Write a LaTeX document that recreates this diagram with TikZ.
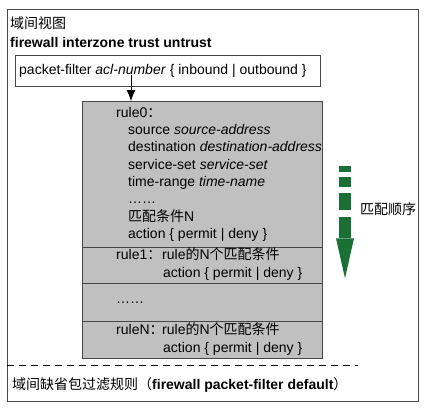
\documentclass[tikz,border=0pt]{standalone}
\usepackage{fontspec}
\usetikzlibrary{arrows.meta}
\setmainfont{Liberation Sans}
\newfontfamily\cjk{Noto Sans CJK SC}
\definecolor{rulegray}{RGB}{192,192,192}
\definecolor{linegray}{RGB}{70,70,70}
\definecolor{ordergreen}{RGB}{24,112,52}
\begin{document}
\begin{tikzpicture}[x=1pt, y=-1pt,
  txt/.style={anchor=base west, inner sep=0pt, font=\fontsize{14}{17}\selectfont},
  rulebox/.style={draw=linegray, fill=rulegray, anchor=north west, inner sep=0pt, minimum width=240},
  seg/.style={fill=ordergreen, draw=none}]
\useasboundingbox (0,0) rectangle (426,408);

% Outer frame and the default rule line
\draw[linegray] (7,9) rectangle (418,401);
\draw[dashed, dash pattern=on 7pt off 5pt] (7,365) -- (358,365);

% Zone header
\node[txt] (zone) at (10,28) {\cjk 域间视图};
\node[txt, font=\fontsize{14}{17}\selectfont\bfseries] (cmd) at (10,47) {firewall interzone trust untrust};

% packet-filter box
\node[draw=linegray, anchor=north west, minimum width=305, minimum height=31, inner sep=0pt] (pf) at (15,55) {};
\node[txt] (pftext) at (19,74.5) {packet-filter \textit{acl-number} \{ inbound | outbound \}};

% Rule boxes
\node[rulebox, minimum height=146] (rule0) at (82,101) {};
\node[rulebox, minimum height=36] (rule1) at (82,247) {};
\node[rulebox, minimum height=38] (rulemid) at (82,283) {};
\node[rulebox, minimum height=37] (ruleN) at (82,321) {};

\coordinate (arrtop) at (131,75);
\draw[-{Latex[length=11pt, width=9pt]}, thick] (arrtop) -- (rule0.north -| arrtop);

% rule0 contents
\node[txt] (r0) at (116,117) {rule0{\cjk ：}};
\node[txt] (r0a) at (128,134.5) {source \textit{source-address}};
\node[txt] (r0b) at (128,151.8) {destination \textit{destination-address}};
\node[txt] (r0c) at (128,169) {service-set \textit{service-set}};
\node[txt] (r0d) at (128,186.5) {time-range \textit{time-name}};
\node[txt] (r0e) at (128,203.7) {……};
\node[txt] (r0f) at (128,221) {{\cjk 匹配条件}N};
\node[txt] (r0g) at (128,238.5) {action \{ permit | deny \}};

% rule1 contents
\node[txt] (r1) at (116,259.3) {rule1{\cjk ：}};
\node[txt] (r1a) at (162,259.3) {rule{\cjk 的}N{\cjk 个匹配条件}};
\node[txt] (r1b) at (163,277) {action \{ permit | deny \}};

\node[txt] (rm) at (116,303) {……};

% ruleN contents
\node[txt] (rn) at (116,334.5) {ruleN{\cjk ：}};
\node[txt] (rna) at (162,334.5) {rule{\cjk 的}N{\cjk 个匹配条件}};
\node[txt] (rnb) at (163,352.5) {action \{ permit | deny \}};

% Match order arrow
\fill[seg] (339,166) rectangle (351,171.7);
\fill[seg] (339,176.7) rectangle (351,187.3);
\fill[seg] (339,192.7) rectangle (351,210);
\fill[seg] (339,216.7) rectangle (351,238.3);
\fill[seg] (336,238.3) -- (354,238.3) -- (345,278.3) -- cycle;
\node[txt] (order) at (360,214) {\cjk 匹配顺序};

% Default rule
\node[txt] (default) at (12,389) {{\cjk 域间缺省包过滤规则（}\textbf{firewall packet-filter default}{\cjk ）}};
\end{tikzpicture}
\end{document}
